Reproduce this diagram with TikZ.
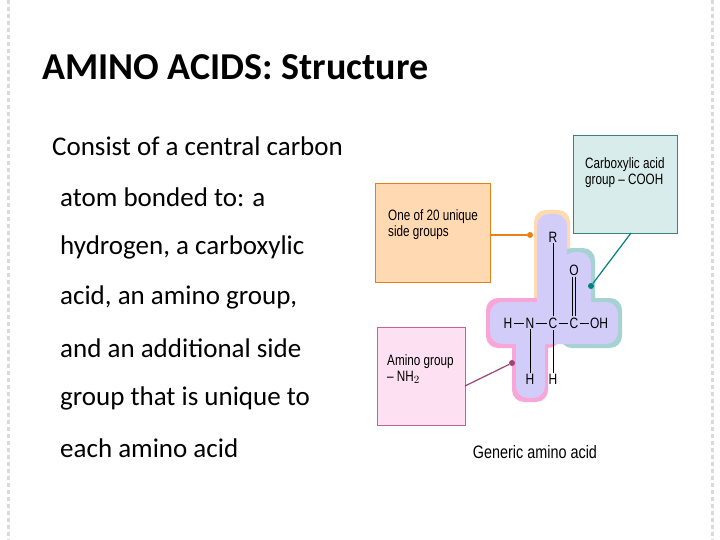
\documentclass[tikz,border=0pt]{standalone}
\usepackage{fontspec}
\setmainfont{Carlito}
\newfontfamily\arialn{Liberation Sans}
\begin{document}
\begin{tikzpicture}[x=1pt,y=-1pt,
  lbl/.style={font=\arialn\fontsize{15}{16}\selectfont\addfontfeature{FakeStretch=0.78},align=left,anchor=north west,inner sep=0pt},
  atom/.style={font=\arialn\fontsize{15}{15}\selectfont\addfontfeature{FakeStretch=0.8},inner sep=1pt},
  body/.style={font=\fontsize{27}{28}\selectfont,anchor=west,inner sep=0pt},
  dot/.style={circle,inner sep=0pt,minimum size=6pt}]
\useasboundingbox (0,0) rectangle (720,540);
\fill[white] (0,0) rectangle (720,540);
\draw[gray!30,line width=3pt,dash pattern=on 4pt off 3pt] (8,0)--(8,540) (712,0)--(712,540);
\node[font=\bfseries\fontsize{38}{40}\selectfont,anchor=west,inner sep=0pt] (title) at (42,67) {AMINO ACIDS: Structure};
\node[body] (l1) at (52,146) {Consist of a central carbon};
\node[body] (l2) at (60,197) {atom bonded to: a};
\node[body] (l3) at (60,247) {hydrogen, a carboxylic};
\node[body] (l4) at (60,297) {acid, an amino group,};
\node[body] (l5) at (60,348) {and an additional side};
\node[body] (l6) at (60,398) {group that is unique to};
\node[body] (l7) at (60,448) {each amino acid};
% blob
\begin{scope}[line width=3pt,rounded corners=12pt]
\fill[orange!30] (534,210) rectangle (570,330);
\fill[teal!35] (560,248) rectangle (595,330);
\fill[teal!35] (560,298) rectangle (622,348);
\fill[magenta!35] (486,298) rectangle (560,348);
\fill[magenta!35] (512,298) rectangle (548,402);
\fill[violet!25!blue!20] (537,214) rectangle (567,340);
\fill[violet!25!blue!20] (563,252) rectangle (591,340);
\fill[violet!25!blue!20] (490,302) rectangle (618,344);
\fill[violet!25!blue!20] (516,302) rectangle (545,398);
\end{scope}
\node[atom] (H1) at (508,323) {H};
\node[atom] (N) at (530,323) {N};
\node[atom] (Ca) at (553,323) {C};
\node[atom] (Cc) at (574,323) {C};
\node[atom] (OH) at (599,323) {OH};
\node[atom] (R) at (553,237) {R};
\node[atom] (O) at (574,270) {O};
\node[atom] (H2) at (530,379) {H};
\node[atom] (H3) at (553,379) {H};
\draw[thin] (H1)--(N) (N)--(Ca) (Ca)--(Cc) (Cc)--(OH) (Ca)--(R) (N)--(H2) (Ca)--(H3);
\draw[thin] ([xshift=-1.5pt]O.south)--([xshift=-1.5pt]Cc.north) ([xshift=1.5pt]O.south)--([xshift=1.5pt]Cc.north);
% boxes
\node[draw=orange!60!brown,fill=orange!30,minimum width=115pt,minimum height=99pt,anchor=north west,inner sep=0pt] (ob) at (375,183) {};
\node[lbl] at (388,209) {One of 20 unique\\side groups};
\node[draw=teal!50!gray,fill=teal!15,minimum width=104pt,minimum height=98pt,anchor=north west,inner sep=0pt] (tb) at (573,135) {};
\node[lbl] at (585,157) {Carboxylic acid\\group – COOH};
\node[draw=magenta!50!gray,fill=magenta!12,minimum width=88pt,minimum height=98pt,anchor=north west,inner sep=0pt] (pb) at (377,327) {};
\node[lbl] at (387,354) {Amino group\\– NH$_2$};
\node[dot,fill=orange!70!brown] (od) at (530,235) {};
\node[dot,fill=teal] (td) at (591,286) {};
\node[dot,fill=magenta!60!black] (pd) at (512,363) {};
\draw[orange!70!brown,line width=1.2pt] (ob.east|-od)--(od);
\draw[teal,line width=1.2pt] (631,233)--(td);
\draw[magenta!60!black,line width=1.2pt] (465,386)--(pd);
\node[atom,font=\arialn\fontsize{18}{18}\selectfont\addfontfeature{FakeStretch=0.8}] (cap) at (535,452) {Generic amino acid};
\end{tikzpicture}
\end{document}
